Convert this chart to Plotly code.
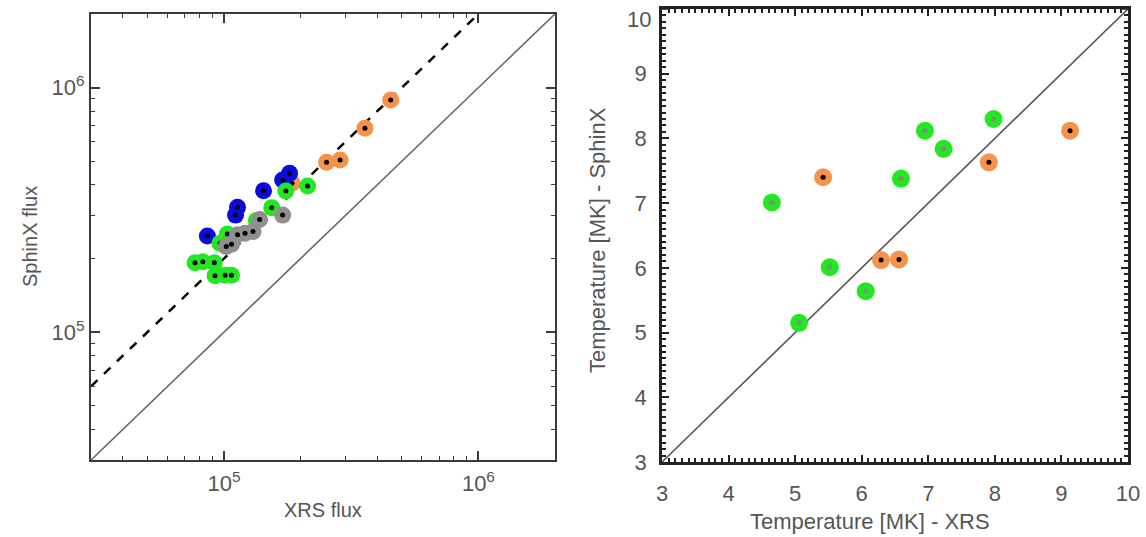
import math
import plotly.graph_objects as go

W, H = 1146, 537

# ---------------- Left panel data: SphinX flux vs XRS flux ----------------
orange_x = [4.52e5, 3.58e5, 2.53e5, 2.86e5, 1.85e5]
orange_y = [8.9e5, 6.82e5, 4.95e5, 5.06e5, 4.06e5]

blue_x = [1.81e5, 1.70e5, 1.43e5, 1.13e5, 1.11e5, 8.6e4]
blue_y = [4.46e5, 4.19e5, 3.79e5, 3.24e5, 3.01e5, 2.47e5]

green_x = [2.13e5, 1.75e5, 1.54e5, 1.34e5, 1.03e5, 9.64e4, 7.69e4, 8.25e4, 9.16e4, 9.22e4, 1.07e5, 1.01e5]
green_y = [3.96e5, 3.78e5, 3.23e5, 2.86e5, 2.52e5, 2.31e5, 1.92e5, 1.94e5, 1.92e5, 1.70e5, 1.71e5, 1.71e5]

gray_x = [1.70e5, 1.38e5, 1.30e5, 1.21e5, 1.13e5, 1.07e5, 1.02e5]
gray_y = [3.01e5, 2.89e5, 2.58e5, 2.54e5, 2.50e5, 2.29e5, 2.24e5]

flux_range = [3e4, 2e6]          # identity line / axis range
fit_x = [3e4, 1e6]               # dashed fit line
fit_ratio = 2.0                  # SphinX = 2 * XRS
flux_ticks = [1e5, 1e6]
flux_ticktext = ["10<sup>5</sup>", "10<sup>6</sup>"]

# ---------------- Right panel data: temperatures ----------------
tg_x = [4.65, 5.06, 5.52, 6.06, 6.59, 6.95, 7.23, 7.98]
tg_y = [7.01, 5.15, 6.01, 5.64, 7.38, 8.12, 7.84, 8.30]

to_x = [5.42, 6.29, 6.56, 7.91, 9.13]
to_y = [7.40, 6.12, 6.13, 7.63, 8.12]

temp_range = [3, 10]
temp_yticks = [3, 4, 5, 6, 7, 8, 9]

# colours
C_ORANGE = "#F6924A"
C_BLUE = "#0B0BDC"
C_GREEN = "#22E822"
C_GRAY = "#8F8F8F"

fig = go.Figure()

def add_pts(x, y, color, dot, xa, ya, size=16, dsize=5):
    fig.add_trace(go.Scatter(x=x, y=y, mode="markers", xaxis=xa, yaxis=ya,
                             marker=dict(size=size, color=color, line=dict(width=0)),
                             showlegend=False, hoverinfo="x+y"))
    fig.add_trace(go.Scatter(x=x, y=y, mode="markers", xaxis=xa, yaxis=ya,
                             marker=dict(size=dsize, color=dot, line=dict(width=0)),
                             showlegend=False, hoverinfo="skip"))

# left lines
fig.add_trace(go.Scatter(x=flux_range, y=flux_range, mode="lines", xaxis="x", yaxis="y",
                         line=dict(color="#666666", width=1.6), showlegend=False, hoverinfo="skip"))
fig.add_trace(go.Scatter(x=fit_x, y=[v * fit_ratio for v in fit_x], mode="lines", xaxis="x", yaxis="y",
                         line=dict(color="black", width=2.5, dash="dash"), showlegend=False, hoverinfo="skip"))

add_pts(orange_x, orange_y, C_ORANGE, "black", "x", "y", size=17)
add_pts(blue_x, blue_y, C_BLUE, "black", "x", "y", size=17)
add_pts(green_x, green_y, C_GREEN, "black", "x", "y", size=17)
add_pts(gray_x, gray_y, C_GRAY, "black", "x", "y", size=17)

# right lines
fig.add_trace(go.Scatter(x=temp_range, y=temp_range, mode="lines", xaxis="x2", yaxis="y2",
                         line=dict(color="#555555", width=1.6), showlegend=False, hoverinfo="skip"))
add_pts(tg_x, tg_y, C_GREEN, "#888888", "x2", "y2", size=18, dsize=5)
add_pts(to_x, to_y, C_ORANGE, "black", "x2", "y2", size=18, dsize=5)

FONT = "Liberation Sans, Arial, Helvetica, sans-serif"
TICKFONT_L = dict(family=FONT, size=22, color="#555555")
TICKFONT_R = dict(family=FONT, size=22, color="#555555")

minor_flux = [k * 10 ** e for e in (4, 5) for k in range(2, 10)] + [2e6]

common_l = dict(showline=True, linecolor="#3a3a3a", linewidth=2, mirror="ticks",
                showgrid=False, zeroline=False, ticks="inside", tickcolor="#3a3a3a",
                automargin=False)
common_r = dict(showline=True, linecolor="#222222", linewidth=2.5, mirror="ticks",
                showgrid=False, zeroline=False, ticks="inside", tickcolor="#222222",
                automargin=False)

fig.update_layout(
    template="none",
    width=W, height=H,
    margin=dict(l=0, r=0, t=0, b=0, autoexpand=False),
    paper_bgcolor="white", plot_bgcolor="white",
    xaxis=dict(type="log", range=[math.log10(flux_range[0]), math.log10(flux_range[1])],
               domain=[91 / W, 555 / W], anchor="y",
               tickmode="array", tickvals=flux_ticks, ticktext=flux_ticktext,
               ticklen=9, tickwidth=1.5, tickfont=TICKFONT_L, ticklabelstandoff=3,
               minor=dict(tickmode="array", tickvals=minor_flux, ticks="inside", ticklen=4,
                          tickcolor="#3a3a3a", tickwidth=1.2, showgrid=False),
               **common_l),
    yaxis=dict(type="log", range=[math.log10(flux_range[0]), math.log10(flux_range[1])],
               domain=[1 - 460 / H, 1 - 14 / H], anchor="x",
               tickmode="array", tickvals=flux_ticks, ticktext=flux_ticktext,
               ticklen=9, tickwidth=1.5, tickfont=TICKFONT_L, ticklabelstandoff=0,
               minor=dict(tickmode="array", tickvals=minor_flux, ticks="inside", ticklen=4,
                          tickcolor="#3a3a3a", tickwidth=1.2, showgrid=False),
               **common_l),
    xaxis2=dict(range=temp_range, domain=[662 / W, 1128 / W], anchor="y2",
                tickmode="linear", tick0=3, dtick=1, ticklen=7, tickwidth=1.5,
                tickfont=TICKFONT_R, ticklabelstandoff=10, ticklabeloverflow="allow",
                minor=dict(dtick=0.1, ticks="inside", ticklen=4, tickcolor="#222222",
                           tickwidth=1.5, showgrid=False),
                **common_r),
    yaxis2=dict(range=temp_range, domain=[1 - 462 / H, 1 - 9 / H], anchor="x2",
                tickmode="array", tickvals=temp_yticks, ticklen=7, tickwidth=1.5,
                tickfont=TICKFONT_R, ticklabelstandoff=8,
                minor=dict(dtick=0.1, ticks="inside", ticklen=4, tickcolor="#222222",
                           tickwidth=1.5, showgrid=False),
                **common_r),
)
# major tick at the top of the right y axis (its label is drawn separately below)
fig.add_shape(type="line", xref="x2 domain", yref="y2", x0=0, x1=7 / 466, y0=10, y1=10,
              line=dict(color="#222222", width=1.5))
fig.add_shape(type="line", xref="x2 domain", yref="y2", x0=1 - 7 / 466, x1=1, y0=10, y1=10,
              line=dict(color="#222222", width=1.5))

def ann(text, px, py, size, angle=0, xanchor="center"):
    fig.add_annotation(text=text, x=px / W, y=1 - py / H, xref="paper", yref="paper",
                       showarrow=False, textangle=angle, xanchor=xanchor, yanchor="middle",
                       font=dict(family=FONT, size=size, color="#555555"))

ann("10", 653, 19, 22, xanchor="right")
ann("XRS flux", 323, 510, 20)
ann("SphinX flux", 30, 237, 20, -90)
ann("Temperature [MK] - XRS", 870, 521, 22)
ann("Temperature [MK] - SphinX", 598, 240, 22, -90)

fig.write_html("out.html", config={"displayModeBar": False},
               post_script="document.body.style.margin='0px';")
